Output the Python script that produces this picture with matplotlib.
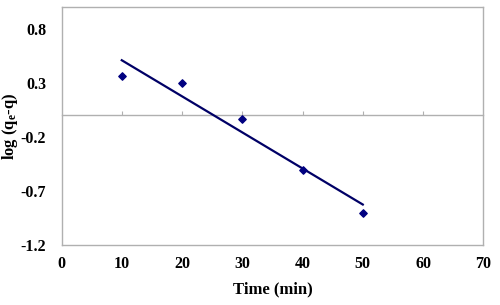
import matplotlib
matplotlib.use("Agg")
import matplotlib.pyplot as plt

# Data
time_min = [10, 20, 30, 40, 50]
log_qe_q = [0.367, 0.296, -0.037, -0.509, -0.905]

# Linear trend line end points
fit_x = [10, 50]
fit_y = [0.51, -0.826]

x_ticks = [0, 10, 20, 30, 40, 50, 60, 70]
y_ticks = [-1.2, -0.7, -0.2, 0.3, 0.8]
y_labels = ["-1.2", "-0.7", "-0.2", "0.3", "0.8"]

plt.rcParams["font.family"] = "Liberation Serif"
plt.rcParams["font.weight"] = "bold"
plt.rcParams["mathtext.fontset"] = "custom"
plt.rcParams["mathtext.rm"] = "Liberation Serif:bold"
plt.rcParams["mathtext.it"] = "Liberation Serif:bold"
plt.rcParams["mathtext.bf"] = "Liberation Serif:bold"

fig = plt.figure(figsize=(5, 3.05), dpi=100)
ax = fig.add_axes([0.123, 0.197, 0.8436, 0.779])

grey = "#b0b0b0"

# Data points and trend line
ax.scatter(time_min, log_qe_q, marker="D", s=14, color="#000080", zorder=3)
ax.plot(fit_x, fit_y, color="#000066", linewidth=1.6, zorder=2)

ax.set_xlim(0, 70)
ax.set_ylim(-1.2, 1.0)

# Plot area border
for s in ax.spines.values():
    s.set_color(grey)
    s.set_linewidth(1)

ax.set_xticks(x_ticks)
ax.set_yticks(y_ticks)
ax.set_yticklabels(y_labels)
ax.tick_params(axis="x", length=0, pad=8, labelsize=11.5)
ax.tick_params(axis="y", length=0, pad=11, labelsize=11.5)

# Horizontal axis line crossing at y = 0 with small tick marks
sec = ax.secondary_xaxis(1.2 / 2.2)
for s in sec.spines.values():
    s.set_color(grey)
    s.set_linewidth(1)
sec.set_xticks(x_ticks[1:-1])
sec.xaxis.set_ticklabels([])
sec.tick_params(direction="out", length=3, color=grey,
                labelbottom=False, labeltop=False)

ax.set_xlabel("Time (min)", fontsize=12, fontweight="bold", labelpad=7)
ax.set_ylabel(r"log (q$_{\rm e}$-q)", fontsize=12, fontweight="bold")
ax.yaxis.set_label_coords(-0.098, 0.5)

fig.savefig("out.png", dpi=100)
